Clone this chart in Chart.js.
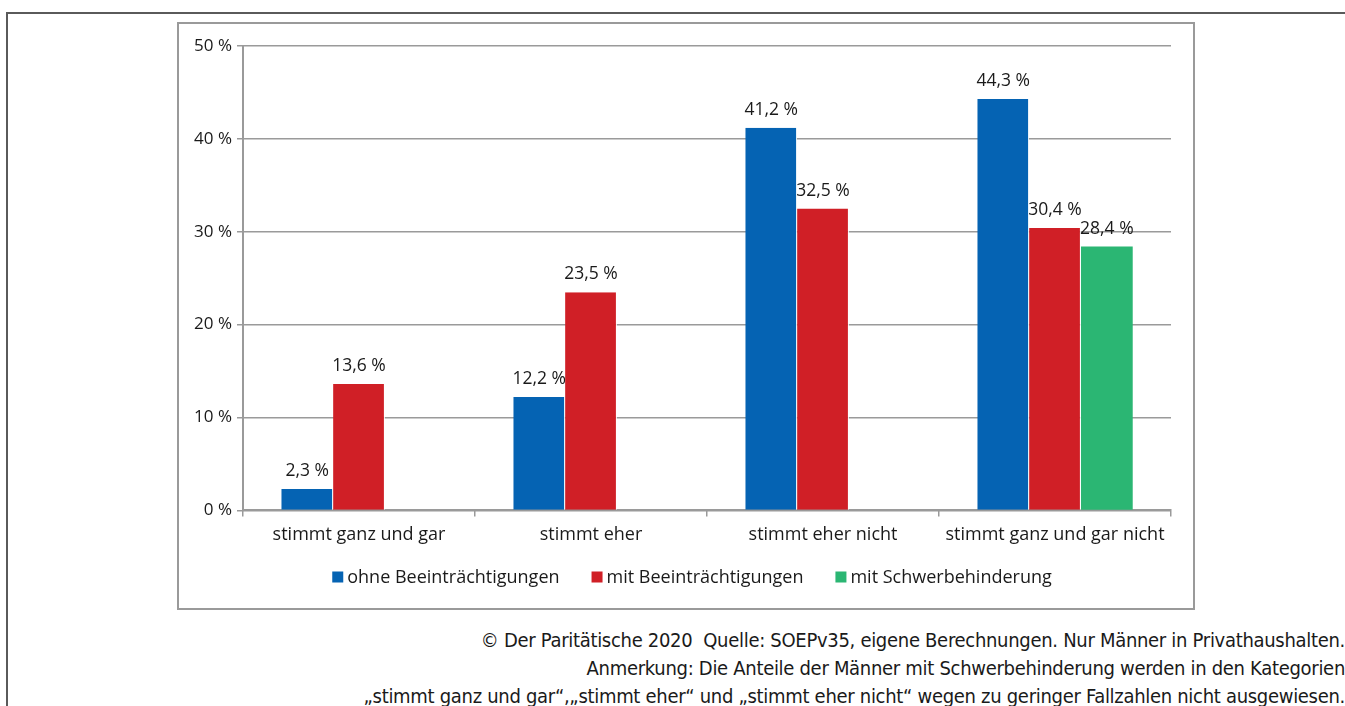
<!DOCTYPE html>
<html lang="de">
<head>
<meta charset="utf-8">
<title>Zustimmung nach Beeinträchtigung</title>
<script src="https://cdn.jsdelivr.net/npm/chart.js@4/dist/chart.umd.min.js"></script>
<style>
    html, body {
        margin: 0;
        padding: 0;
        background: #fff;
    }
    body {
        width: 1345px;
        height: 706px;
        position: relative;
        overflow: hidden;
        font-family: "Open Sans", "Noto Sans", sans-serif;
    }
    .frame {
        position: absolute;
        left: 6px;
        top: 12px;
        width: 1345px;
        height: 710px;
        border-left: 2px solid #5a5a5a;
        border-top: 2px solid #5a5a5a;
    }
    .chart-box {
        position: absolute;
        left: 177px;
        top: 22px;
        width: 1014px;
        height: 584px;
        border: 2px solid #9a9a9a;
    }
    .footer {
        position: absolute;
        right: 0;
        top: 626px;
        text-align: right;
        font-family: "DejaVu Sans Condensed", "Liberation Sans Narrow", sans-serif;
        font-size: 20px;
        line-height: 28px;
        color: #1a1a1a;
        white-space: nowrap;
        letter-spacing: -0.3px;
    }
</style>
</head>
<body>
<div class="frame"></div>
<div class="chart-box">
    <canvas id="barChart" width="1014" height="584"></canvas>
</div>
<div class="footer">
    <div>© Der Paritätische 2020&nbsp; Quelle: SOEPv35, eigene Berechnungen. Nur Männer in Privathaushalten.</div>
    <div>Anmerkung: Die Anteile der Männer mit Schwerbehinderung werden in den Kategorien</div>
    <div>„stimmt ganz und gar“,„stimmt eher“ und „stimmt eher nicht“ wegen zu geringer Fallzahlen nicht ausgewiesen.</div>
</div>

<script>
// Answer categories and shares in percent
const categories = ["stimmt ganz und gar", "stimmt eher", "stimmt eher nicht", "stimmt ganz und gar nicht"];
const ohneBeeintraechtigung = [2.3, 12.2, 41.2, 44.3];
const mitBeeintraechtigung = [13.6, 23.5, 32.5, 30.4];
const mitSchwerbehinderung = [null, null, null, 28.4];
const yTicks = [0, 10, 20, 30, 40, 50];

const fontFamily = "'Open Sans', 'Noto Sans', sans-serif";
const textColor = "#1a1a1a";
const gridColor = "#9a9a9a";

// German number format: 41,2 %
function formatPercent(v) {
    return v.toFixed(1).replace(".", ",") + " %";
}

// Writes the value above each bar
const valueLabels = {
    id: "valueLabels",
    afterDatasetsDraw(chart) {
        const ctx = chart.ctx;
        ctx.save();
        ctx.font = "17.5px " + fontFamily;
        ctx.fillStyle = textColor;
        ctx.textAlign = "center";
        ctx.textBaseline = "alphabetic";
        chart.data.datasets.forEach((ds, i) => {
            chart.getDatasetMeta(i).data.forEach((bar, j) => {
                const v = ds.data[j];
                if (v === null) return;
                ctx.fillText(formatPercent(v), bar.x, bar.y - 13);
            });
        });
        ctx.restore();
    }
};

// Legend row below the axis: small squares with tight spacing
const legendRow = {
    id: "legendRow",
    afterDraw(chart) {
        const ctx = chart.ctx;
        const box = 11, gap = 4, spacing = 32;
        ctx.save();
        ctx.font = "18px " + fontFamily;
        ctx.textBaseline = "middle";
        ctx.textAlign = "left";
        const items = chart.data.datasets.map(ds => ({
            text: ds.label,
            color: ds.backgroundColor,
            w: box + gap + ctx.measureText(ds.label).width
        }));
        const total = items.reduce((s, it) => s + it.w, 0) + spacing * (items.length - 1);
        let x = (chart.width - total) / 2 + 6;
        const y = 553;
        items.forEach(it => {
            ctx.fillStyle = it.color;
            ctx.fillRect(x, y - box / 2, box, box);
            ctx.fillStyle = textColor;
            ctx.fillText(it.text, x + box + gap, y + 1);
            x += it.w + spacing;
        });
        ctx.restore();
    }
};

document.addEventListener("DOMContentLoaded", () => {
    const ctx = document.getElementById("barChart").getContext("2d");

    new Chart(ctx, {
        type: "bar",
        data: {
            labels: categories,
            datasets: [
                {
                    label: "ohne Beeinträchtigungen",
                    data: ohneBeeintraechtigung,
                    backgroundColor: "#0563b3",
                    borderColor: "#ffffff",
                    borderWidth: { left: 0, right: 1, top: 0, bottom: 0 }
                },
                {
                    label: "mit Beeinträchtigungen",
                    data: mitBeeintraechtigung,
                    backgroundColor: "#d01f26",
                    borderColor: "#ffffff",
                    borderWidth: { left: 0, right: 1, top: 0, bottom: 0 }
                },
                {
                    label: "mit Schwerbehinderung",
                    data: mitSchwerbehinderung,
                    backgroundColor: "#2bb673",
                    borderWidth: 0
                }
            ]
        },
        options: {
            responsive: false,
            animation: false,
            devicePixelRatio: 1,
            layout: {
                padding: { left: 6, right: 22, top: 22, bottom: 54 }
            },
            datasets: {
                bar: {
                    barPercentage: 1,
                    categoryPercentage: 0.67
                }
            },
            scales: {
                y: {
                    min: 0,
                    max: 50,
                    afterBuildTicks: axis => {
                        axis.ticks = yTicks.map(v => ({ value: v }));
                    },
                    afterFit: axis => {
                        axis.width = 58;
                    },
                    ticks: {
                        color: textColor,
                        padding: 5,
                        font: { family: fontFamily, size: 17 },
                        callback: v => v + " %"
                    },
                    grid: {
                        color: gridColor,
                        lineWidth: 1.5,
                        tickLength: 6
                    },
                    border: { color: gridColor, width: 2 }
                },
                x: {
                    ticks: {
                        color: textColor,
                        padding: 8,
                        font: { family: fontFamily, size: 18 }
                    },
                    grid: {
                        offset: true,
                        drawOnChartArea: false,
                        color: gridColor,
                        lineWidth: 1.5,
                        tickLength: 6
                    },
                    border: { color: gridColor, width: 2 }
                }
            },
            plugins: {
                legend: { display: false },
                tooltip: { enabled: false }
            }
        },
        plugins: [valueLabels, legendRow]
    });
});
</script>
</body>
</html>
